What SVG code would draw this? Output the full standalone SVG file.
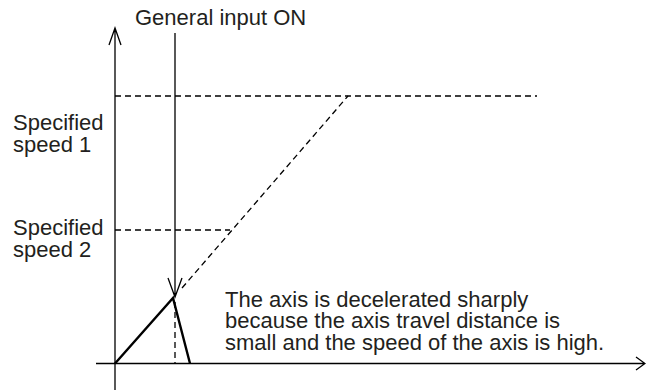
<svg xmlns="http://www.w3.org/2000/svg" width="646" height="391" viewBox="0 0 646 391">
<style>
.t{font-family:"Liberation Sans",Arial,sans-serif;font-size:22px;fill:#231f20}
.ax{stroke:#000;stroke-width:1.3;fill:none}
.d{stroke:#000;stroke-width:1.3;fill:none;stroke-dasharray:6,4}
.s{stroke:#000;stroke-width:2.4;fill:none}
</style>
<rect width="646" height="391" fill="#fff"/>
<g id="connectors">
<path class="ax" d="M115,390 V28 M109,45 L115,28 L121,45"/>
<path class="ax" d="M96,363.5 H645 M636,357 L645,363.5 L636,370"/>
<path class="ax" d="M175,33 V297 M168,278 L175,297 L182,278"/>
<path class="d" d="M115,96 H537"/>
<path class="d" d="M115,230 H230"/>
<path class="d" d="M182,288 L348,96"/>
<path class="d" d="M175,302 V363"/>
<path class="s" d="M115,363.5 L173,298 L190,363.5"/>
</g>
<g id="label-title"><text class="t" x="135" y="25">General input ON</text></g>
<g id="label-speed1"><text class="t" x="13" y="130">Specified</text><text class="t" x="13" y="152">speed 1</text></g>
<g id="label-speed2"><text class="t" x="13" y="235">Specified</text><text class="t" x="13" y="257">speed 2</text></g>
<g id="label-note"><text class="t" x="225" y="306.5">The axis is decelerated sharply</text><text class="t" x="225" y="328">because the axis travel distance is</text><text class="t" x="225" y="349.5">small and the speed of the axis is high.</text></g>
</svg>
